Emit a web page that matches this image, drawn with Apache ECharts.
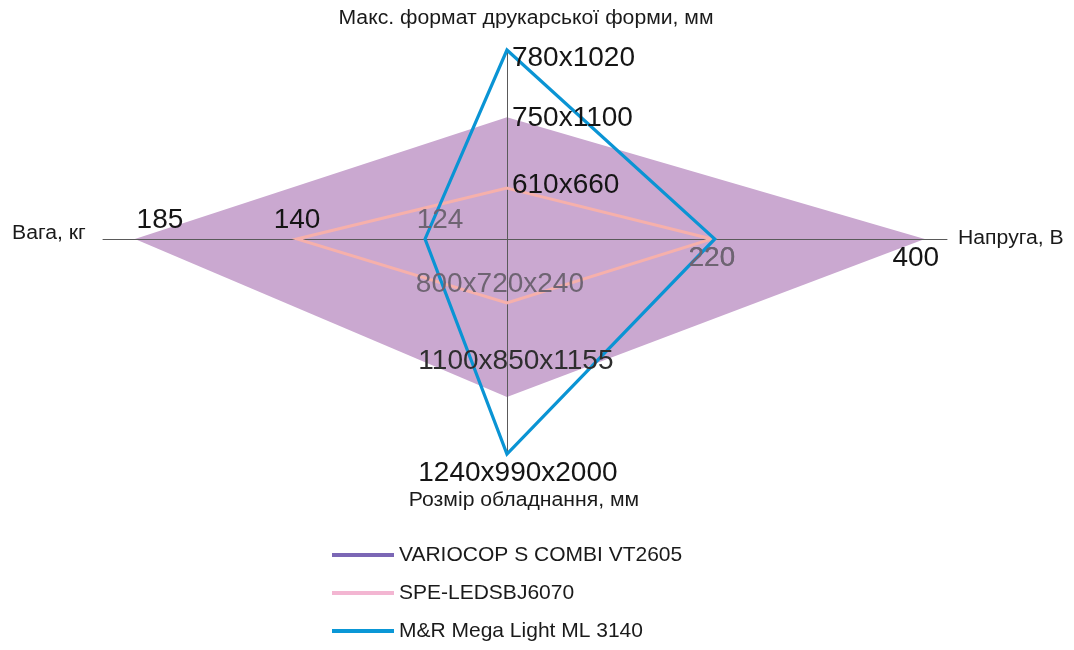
<!DOCTYPE html>
<html>
<head>
<meta charset="utf-8">
<script src="https://cdn.jsdelivr.net/npm/echarts@6/dist/echarts.min.js"></script>
<style>html,body{margin:0;padding:0;background:#fff}#c{width:1074px;height:650px}</style>
</head>
<body>
<div id="c"></div>
<script>
// Axis names (order: top, right, bottom, left)
const axisNames = ['Макс. формат друкарської форми, мм', 'Напруга, В', 'Розмір обладнання, мм', 'Вага, кг'];
// Series names
const seriesNames = ['VARIOCOP S COMBI VT2605', 'SPE-LEDSBJ6070', 'M&R Mega Light ML 3140'];
// Plotted scores (relative position along each axis)
const variocopScores = [29.0, 99.5, 37.6, 88.6];
const speScores      = [12.1, 48.8, 15.2, 50.0];
const mrScores       = [45.0, 49.5, 51.2, 19.5];
// Value labels shown at each point
const variocopLabels = ['750x1100', '400', '1100x850x1155', '185'];
const speLabels      = ['610x660', '220', '800x720x240', '140'];
const mrLabels       = ['780x1020', '220', '1240x990x2000', '124'];

const FONT = '"Liberation Sans", Arial, sans-serif';
const dirs = [[0,1],[1,0],[0,-1],[-1,0]];
function toPts(scores){ return scores.map((v,i)=>[dirs[i][0]*v, dirs[i][1]*v]); }

const allScores = [variocopScores, speScores, mrScores];
const allLabels = [variocopLabels, speLabels, mrLabels];
const colors = {
  fill: '#caa8d0',
  legend: ['#7b67b5', '#f3b6d2', '#0a97d6'],
  line: ['#caa8d0', '#f6b0ab', '#0a94d4']
};
// label placement per series per axis
const place = [
  [{p:'right',o:[0,1]},{p:'bottom',o:[-9,0]},{p:'top',o:[9,-17]},{p:'top',o:[25,0]}],
  [{p:'right',o:[0,-3]},{p:'bottom',o:[0,0]},{p:'top',o:[-7,0]},{p:'top',o:[0,0]}],
  [{p:'right',o:[0,8]},{p:'bottom',o:[-3,0]},{p:'bottom',o:[11,0]},{p:'top',o:[15,0]}]
];
const labelColor = [
  ['#151515','#151515','#2e2e2e','#151515'],
  ['#151515','#6e6472','#6e6472','#151515'],
  ['#151515','#6e6472','#151515','#6e6472']
];

function polySeries(si){
  const pts = toPts(allScores[si]);
  const filled = si === 0;
  return {
    type: 'custom', name: seriesNames[si], coordinateSystem: 'cartesian2d',
    z: filled ? 1 : 5 + si,
    data: pts,
    silent: true,
    renderItem: function(params, api){
      if (params.dataIndex !== 0) return null;
      const coords = pts.map(p => api.coord(p));
      return {
        type: 'polygon',
        shape: { points: coords },
        style: filled ? { fill: colors.fill, stroke: null } :
                        { fill: 'none', stroke: colors.line[si], lineWidth: si === 2 ? 3.2 : 3, lineJoin: 'miter' }
      };
    },
    itemStyle: { color: colors.legend[si] }
  };
}
function labelSeries(si){
  const pts = toPts(allScores[si]);
  return {
    type: 'scatter', symbolSize: 0, z: 10, silent: true,
    itemStyle: { opacity: 1 },
    data: pts.map((p,i)=>({
      value: p,
      label: {
        show: true, position: place[si][i].p, offset: place[si][i].o, distance: 5,
        formatter: allLabels[si][i], color: labelColor[si][i], opacity: 1,
        fontSize: 28, fontFamily: FONT
      }
    }))
  };
}

const chart = echarts.init(document.getElementById('c'), null, {renderer:'canvas'});
const axisCommon = {
  type: 'value', z: 4,
  axisLine: { show: true, onZero: true, lineStyle: { color: '#5a5a5a', width: 1 } },
  axisTick: { show: false }, axisLabel: { show: false }, splitLine: { show: false }
};
const nameFont = '20px ' + FONT;
chart.setOption({
  animation: false,
  backgroundColor: '#fff',
  grid: { left: 103, right: 127, top: 50, bottom: 196 },
  xAxis: Object.assign({}, axisCommon, { min: -96.2, max: 104.8 }),
  yAxis: Object.assign({}, axisCommon, { min: -51.2, max: 45.0 }),
  legend: {
    orient: 'vertical', left: 332, top: 543, padding: 0, itemWidth: 62, itemHeight: 4, itemGap: 14,
    icon: 'rect',
    textStyle: { fontSize: 21, fontFamily: FONT, color: '#1a1a1a', padding: [0,0,0,0], lineHeight: 24 },
    data: seriesNames.map((n,i)=>({ name: n, itemStyle: { color: colors.legend[i] } }))
  },
  graphic: [
    { type:'text', x: 526, y: 18, scaleX: 1.06, style: { text: axisNames[0], font: nameFont, fill: '#1a1a1a', align: 'center', verticalAlign: 'middle' } },
    { type:'text', x: 958, y: 238, scaleX: 1.06, style: { text: axisNames[1], font: nameFont, fill: '#1a1a1a', align: 'left', verticalAlign: 'middle' } },
    { type:'text', x: 524, y: 500, scaleX: 1.06, style: { text: axisNames[2], font: nameFont, fill: '#1a1a1a', align: 'center', verticalAlign: 'middle' } },
    { type:'text', x: 12, y: 233, scaleX: 1.06, style: { text: axisNames[3], font: nameFont, fill: '#1a1a1a', align: 'left', verticalAlign: 'middle' } }
  ],
  series: [polySeries(0), polySeries(1), polySeries(2), labelSeries(0), labelSeries(1), labelSeries(2)]
});
</script>
</body>
</html>
